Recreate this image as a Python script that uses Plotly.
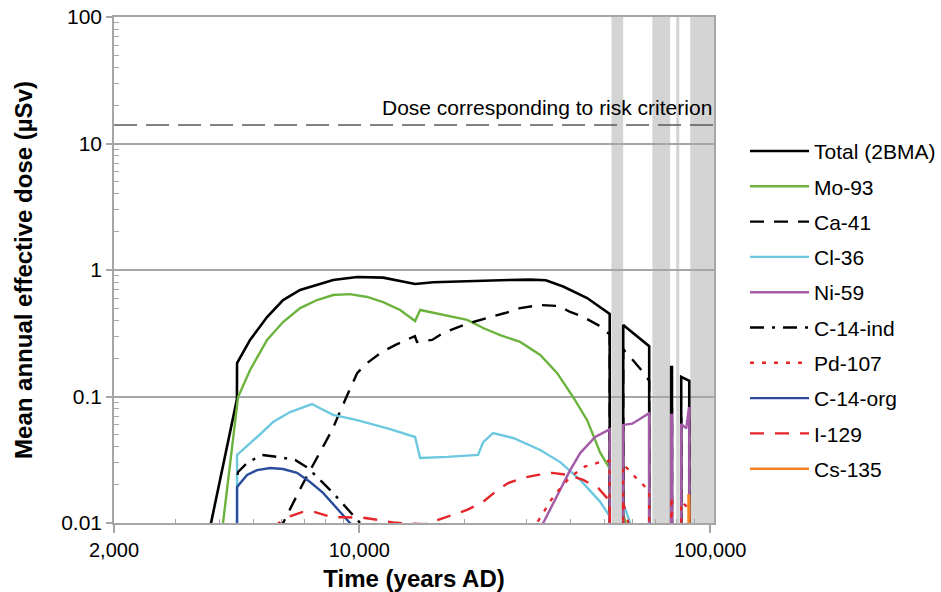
import numpy as np
import plotly.graph_objects as go

Z = 1e-5  # no dose released (off the bottom of the axis)

# ---- data (years AD, mean annual effective dose in µSv) ----
total_years = [3700, 3780, 4480, 4484, 4884, 5460, 6065, 6782, 8422, 9858, 11692, 13072, 14422, 16238,
               20292, 25200, 30690, 34000, 38100, 44590, 51700, 51700, 56500, 56500, 67000, 67000,
               77400, 77400, 77800, 77800, 82660, 82660, 87140, 87140]
total_dose = [0.0085, 0.01, 0.095, 0.184, 0.28, 0.425, 0.579, 0.695, 0.834, 0.88, 0.87, 0.82, 0.775, 0.80,
              0.82, 0.83, 0.84, 0.83, 0.74, 0.60, 0.45, Z, Z, 0.367, 0.25, Z,
              Z, 0.171, 0.171, Z, Z, 0.143, 0.133, Z]

mo93_years = [4000, 4090, 4514, 4884, 5460, 6065, 6782, 7582, 8422, 9414, 10530, 11692, 13072, 14422, 14904,
              18150, 20292, 22540, 25200, 28730, 32780, 36640, 40680, 44590, 48580, 51700, 51700,
              56500, 56500, 58500]
mo93_dose = [0.0085, 0.01, 0.099, 0.162, 0.28, 0.388, 0.50, 0.579, 0.634, 0.645, 0.612, 0.558, 0.483, 0.395, 0.483,
             0.433, 0.403, 0.348, 0.306, 0.27, 0.213, 0.153, 0.099, 0.065, 0.036, 0.027, Z,
             Z, 0.012, 0.008]

ca41_years = [5900, 6065, 6870, 7582, 8364, 9112, 9858, 10530, 11613, 12650, 13960, 14400, 14600, 16130, 17336,
              20160, 24220, 26040, 28730, 32780, 36890, 39900, 43460, 47940, 51700, 51700,
              56500, 56500, 59600, 64000, 67000, 67000, 77400, 77400, 77800, 77800,
              82660, 82660, 87140, 87140]
ca41_dose = [0.0085, 0.01, 0.0199, 0.0333, 0.0543, 0.0938, 0.153, 0.184, 0.225, 0.255, 0.29, 0.30, 0.27, 0.28, 0.318,
             0.374, 0.433, 0.457, 0.50, 0.528, 0.52, 0.466, 0.425, 0.367, 0.31, Z,
             Z, 0.237, 0.20, 0.159, 0.133, Z, Z, 0.08, 0.08, Z,
             Z, 0.07, 0.065, Z]

cl36_years = [4484, 4484, 5112, 5680, 6350, 7098, 7334, 7582, 8422, 9858, 12242, 14422, 14904, 17800,
              21800, 22540, 24060, 27440, 32780, 37360, 42600, 48580, 51700, 51700,
              56500, 56500, 59900]
cl36_dose = [Z, 0.0345, 0.0478, 0.0628, 0.0754, 0.0841, 0.0872, 0.083, 0.0715, 0.065, 0.0553, 0.0478, 0.0327, 0.0333,
             0.0345, 0.0436, 0.0514, 0.047, 0.0378, 0.0303, 0.0219, 0.0147, 0.0113, Z,
             Z, 0.0144, 0.009]

ni59_years = [32000, 33420, 39900, 42600, 47000, 51180, 51700, 51700, 56500, 56500, 59940, 66560, 67000, 67000,
              77400, 77400, 77800, 77800, 82660, 82660, 85440, 86900, 87140, 87140]
ni59_dose = [0.0085, 0.01, 0.0262, 0.0357, 0.0478, 0.0543, 0.055, Z, Z, 0.0596, 0.061, 0.073, 0.075, Z,
             Z, 0.0715, 0.0715, Z, Z, 0.0607, 0.056, 0.081, 0.081, Z]

c14ind_years = [4500, 4514, 4820, 5284, 5868, 6562, 7146, 7832, 8364, 8992, 9728, 10254, 10600]
c14ind_dose = [0.024, 0.0253, 0.0303, 0.0345, 0.0333, 0.0315, 0.0272, 0.0211, 0.0176, 0.0141, 0.011, 0.0095, 0.0085]

pd107_years = [31000, 31700, 35680, 39900, 44020, 48580, 51700, 51700, 56500, 56500, 61500, 67000, 67000,
               77400, 77400, 77800, 77800, 82660, 82660, 87140, 87140]
pd107_dose = [0.0085, 0.0095, 0.0161, 0.0232, 0.028, 0.0303, 0.031, Z, Z, 0.0292, 0.0227, 0.018, Z,
              Z, 0.016, 0.016, Z, Z, 0.0147, 0.013, Z]

c14org_years = [4484, 4484, 4788, 5112, 5568, 6065, 6646, 7240, 7886, 8646, 9414, 9800]
c14org_dose = [Z, 0.0193, 0.024, 0.0262, 0.0272, 0.0267, 0.0249, 0.0211, 0.0173, 0.0131, 0.01, 0.0088]

i129_years = [5600, 5754, 6224, 6870, 7482, 8364, 9112, 10254, 11238, 12486, 13774, 15400, 16776, 18510,
              20292, 22540, 24380, 26560, 29120, 32340, 35460, 39380, 43460, 47940, 51700, 51700,
              56500, 56500, 57500, 59000]
i129_dose = [0.0085, 0.0095, 0.0111, 0.0122, 0.0122, 0.0111, 0.0111, 0.011, 0.0106, 0.0101, 0.0099, 0.0098, 0.0106, 0.0116,
             0.0127, 0.0147, 0.0176, 0.0207, 0.0227, 0.024, 0.0249, 0.024, 0.0219, 0.0189, 0.0149, Z,
             Z, 0.0145, 0.012, 0.009]

cs135_years = [86700, 86700, 87140, 87140]
cs135_dose = [Z, 0.0165, 0.0165, Z]

# periods with no dose (permafrost / glacial conditions)
band_start = [52300, 68400, 80000, 87700]
band_end = [56500, 76900, 81600, 102500]

risk_dose = 14
risk_label = "Dose corresponding to risk criterion"

x_ticks = [2000, 10000, 100000]
x_ticktext = ["2,000", "10,000", "100,000"]
y_ticks = [0.01, 0.1, 1, 10, 100]
y_ticktext = ["0.01", "0.1", "1", "10", "100"]

# ---- styling ----
series = [
    ("Total (2BMA)", total_years, total_dose, "#000000", "solid", 2.6),
    ("Mo-93", mo93_years, mo93_dose, "#6cb33e", "solid", 2.4),
    ("Ca-41", ca41_years, ca41_dose, "#000000", "14px,10px", 2.4),
    ("Cl-36", cl36_years, cl36_dose, "#6cc8df", "solid", 2.4),
    ("Ni-59", ni59_years, ni59_dose, "#a55aa8", "solid", 2.4),
    ("C-14-ind", c14ind_years, c14ind_dose, "#000000", "14px,8px,3px,8px", 2.4),
    ("Pd-107", pd107_years, pd107_dose, "#e4252a", "4px,8px", 2.4),
    ("C-14-org", c14org_years, c14org_dose, "#2b4c9b", "solid", 2.4),
    ("I-129", i129_years, i129_dose, "#e4252a", "14px,11px", 2.4),
    ("Cs-135", cs135_years, cs135_dose, "#f58220", "solid", 2.4),
]

FONT = "Liberation Sans, Arial, sans-serif"

fig = go.Figure()
for i, (name, xs, ys, col, dash, w) in enumerate(series):
    fig.add_trace(go.Scatter(
        x=xs, y=ys, mode="lines", name=name, legendgroup=f"g{i}",
        line=dict(color=col, dash=dash, width=w),
    ))

shapes = []
for s, e in zip(band_start, band_end):
    shapes.append(dict(type="rect", xref="x", yref="paper", x0=s, x1=e, y0=0, y1=1,
                       fillcolor="#d4d4d4", line=dict(width=0), layer="below"))
shapes.append(dict(type="line", xref="paper", yref="y", x0=0, x1=1, y0=risk_dose, y1=risk_dose,
                   line=dict(color="#5a5a5a", width=1.6, dash="23px,9px"), layer="above"))

fig.update_layout(
    width=941, height=592,
    margin=dict(l=114, r=227, t=17, b=69, autoexpand=False),
    paper_bgcolor="white", plot_bgcolor="white",
    font=dict(family=FONT, size=20, color="#000000"),
    shapes=shapes,
    showlegend=True,
    legend=dict(x=1.0517, y=0.775, xanchor="left", yanchor="top",
                font=dict(size=21, family=FONT), itemwidth=59,
                tracegroupgap=5, bgcolor="rgba(0,0,0,0)"),
    annotations=[dict(x=1, xref="paper", y=np.log10(risk_dose), yref="y",
                      xanchor="right", yanchor="bottom", xshift=0, yshift=4,
                      text=risk_label, showarrow=False,
                      font=dict(size=21, family=FONT, color="#000000"))],
)

fig.update_xaxes(
    type="log", range=[np.log10(2000), np.log10(102500)], automargin=False,
    tickvals=x_ticks, ticktext=x_ticktext,
    ticks="outside", ticklen=8, tickwidth=1.5, tickcolor="#a6a6a6",
    showline=True, linecolor="#a6a6a6", linewidth=1.5, mirror=True,
    showgrid=False, zeroline=False,
    minor=dict(tickvals=[3000, 4000, 5000, 6000, 7000, 8000, 9000,
                         20000, 30000, 40000, 50000, 60000, 70000, 80000, 90000],
               ticks="inside", ticklen=4, tickcolor="#a6a6a6", tickwidth=1.2, showgrid=False),
    title=dict(text="<b>Time (years AD)</b>", font=dict(size=24, family=FONT), standoff=12),
    tickfont=dict(size=20),
)
fig.update_yaxes(
    type="log", range=[-2, 2], automargin=False,
    tickvals=y_ticks, ticktext=y_ticktext,
    ticks="outside", ticklen=6, tickwidth=1.5, tickcolor="#a6a6a6",
    showline=True, linecolor="#a6a6a6", linewidth=1.5, mirror=True,
    showgrid=True, gridcolor="#a6a6a6", gridwidth=1.5, zeroline=False,
    minor=dict(tickvals=[m * 10.0 ** k for k in range(-2, 2) for m in range(2, 10)],
               ticks="inside", ticklen=5, tickcolor="#a6a6a6", tickwidth=1.2, showgrid=False),
    title=dict(text="<b>Mean annual effective dose (µSv)</b>", font=dict(size=24, family=FONT), standoff=22),
    tickfont=dict(size=21),
)

fig.write_html("out.html")
